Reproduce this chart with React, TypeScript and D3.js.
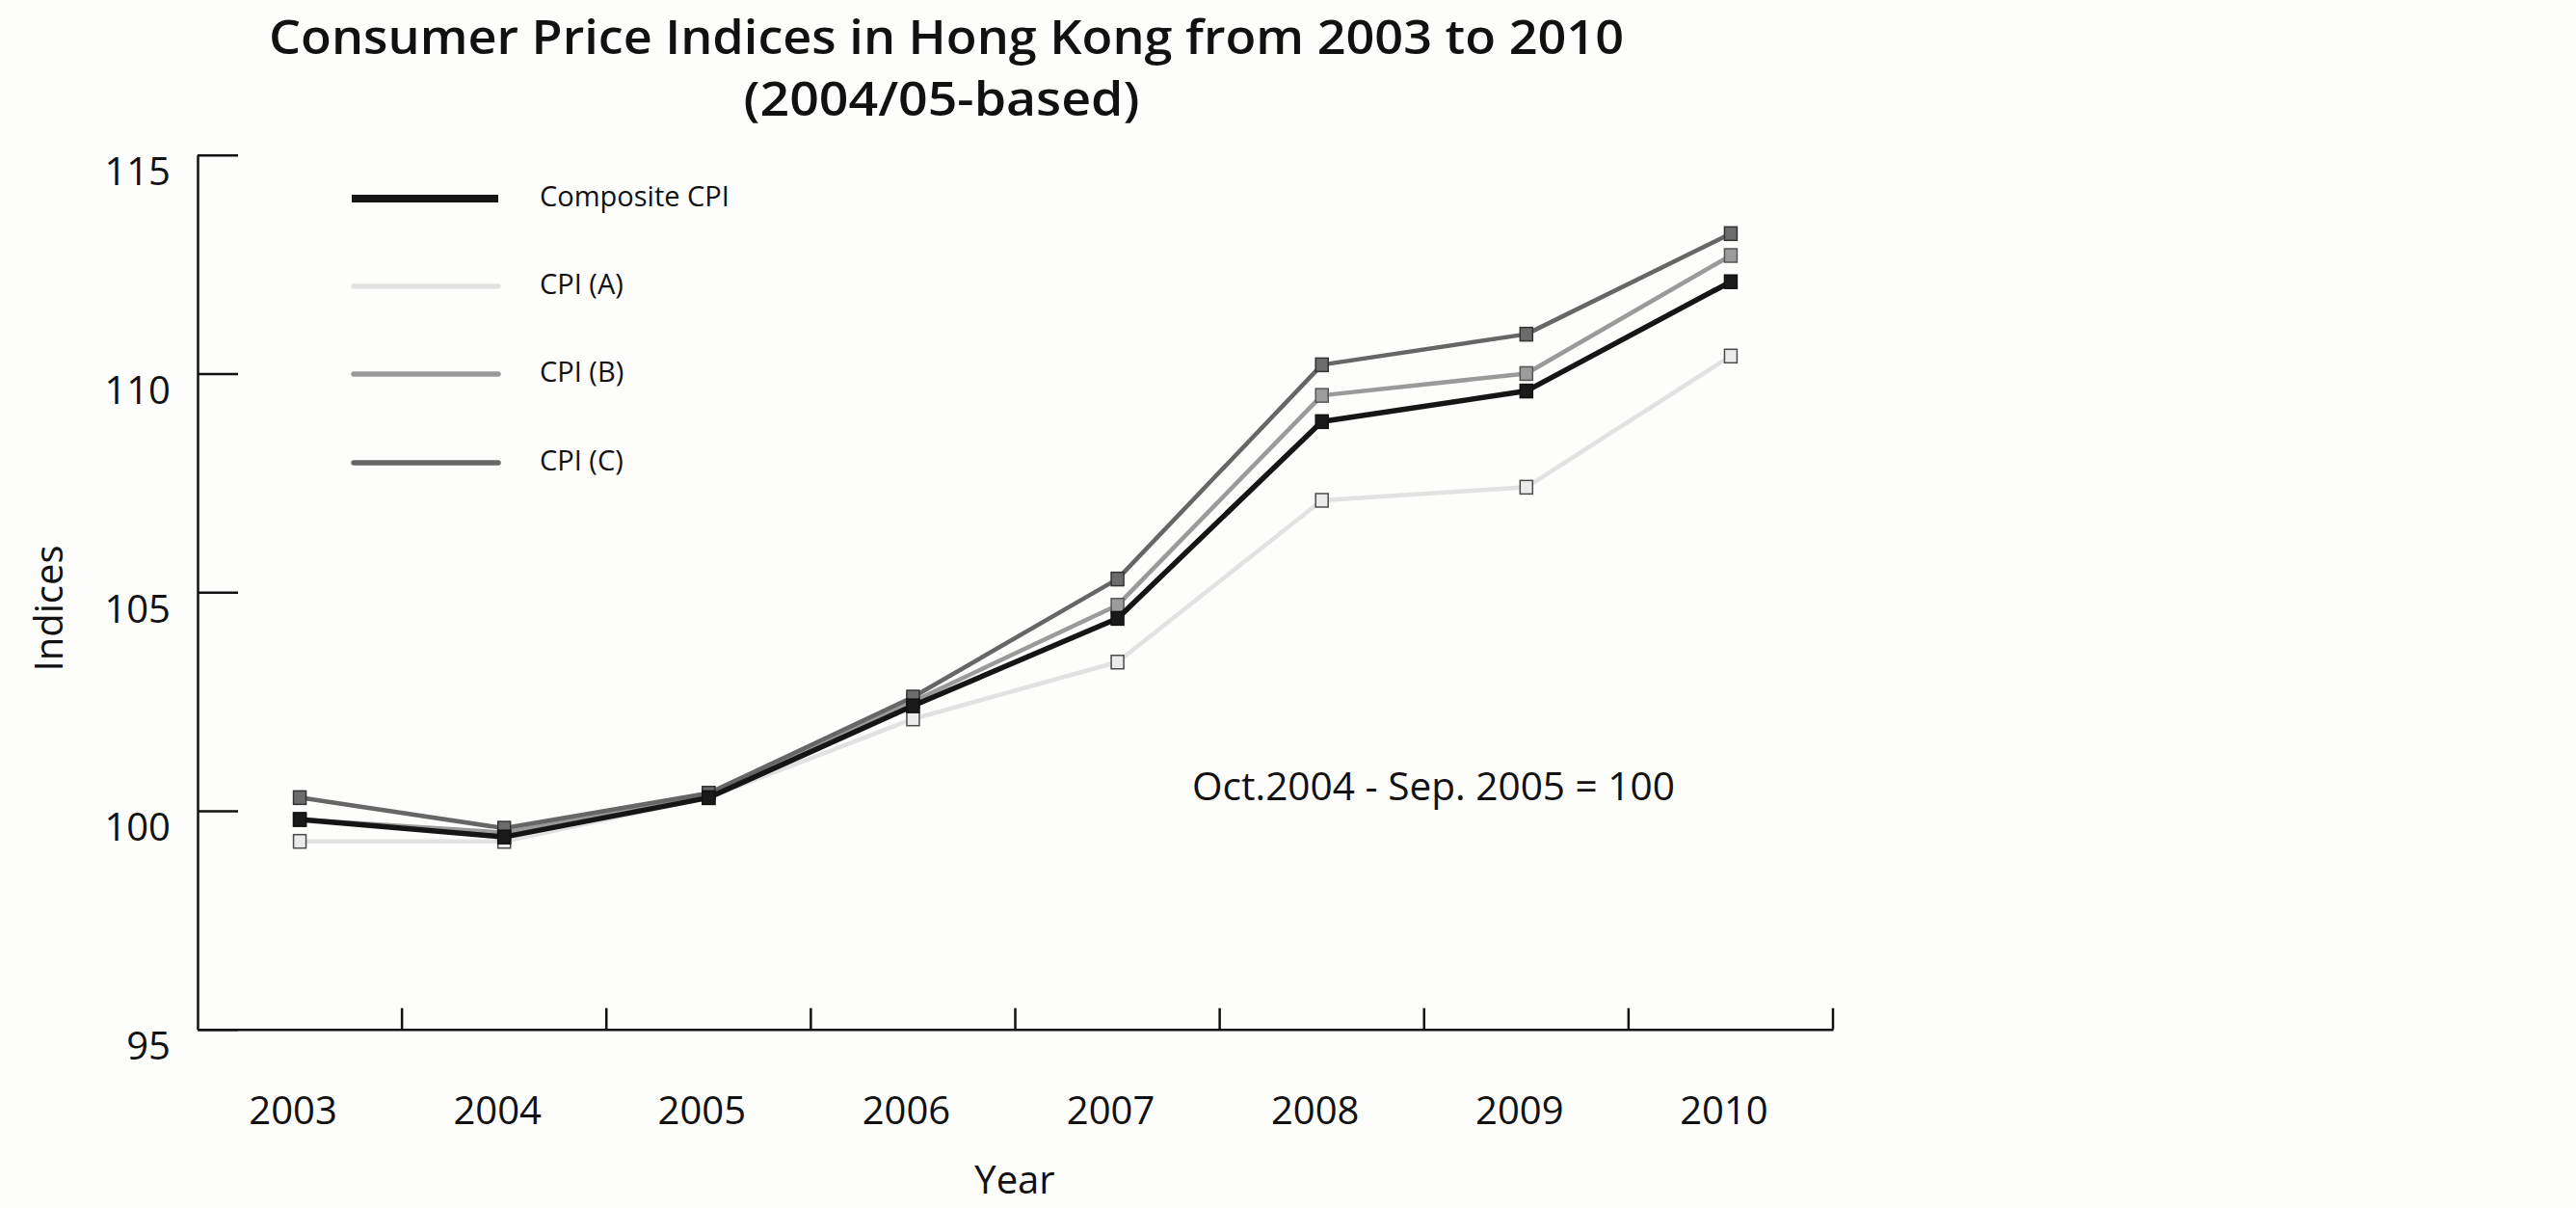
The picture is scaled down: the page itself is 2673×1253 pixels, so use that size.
import React, { useEffect, useRef } from 'react';
import * as d3 from 'd3';

const years = ['2003', '2004', '2005', '2006', '2007', '2008', '2009', '2010'];
const compositeCPI = [99.8, 99.4, 100.3, 102.4, 104.4, 108.9, 109.6, 112.1];
const cpiA = [99.3, 99.3, 100.3, 102.1, 103.4, 107.1, 107.4, 110.4];
const cpiB = [99.8, 99.5, 100.4, 102.5, 104.7, 109.5, 110.0, 112.7];
const cpiC = [100.3, 99.6, 100.4, 102.6, 105.3, 110.2, 110.9, 113.2];
const yTicks = [95, 100, 105, 110, 115];

type Series = {
  name: string;
  values: number[];
  line: string;
  fill: string;
  edge: string;
  width: number;
  legendWidth: number;
  cap: string;
};

// legend order
const series: Series[] = [
  { name: 'Composite CPI', values: compositeCPI, line: '#151515', fill: '#1a1a1a', edge: '#111', width: 5.5, legendWidth: 8, cap: 'butt' },
  { name: 'CPI (A)', values: cpiA, line: '#e2e2e2', fill: '#ebebeb', edge: '#4a4a4a', width: 4.5, legendWidth: 5.5, cap: 'round' },
  { name: 'CPI (B)', values: cpiB, line: '#9a9a9a', fill: '#9c9c9c', edge: '#555', width: 4.5, legendWidth: 5.5, cap: 'round' },
  { name: 'CPI (C)', values: cpiC, line: '#666666', fill: '#6c6c6c', edge: '#333', width: 4.5, legendWidth: 5.5, cap: 'round' },
];

const W = 2673;
const H = 1253;
const FONT = '"Open Sans", "Noto Sans", sans-serif';

export default function App() {
  const ref = useRef<SVGSVGElement>(null);

  useEffect(() => {
    const svg = d3.select(ref.current);
    svg.selectAll('*').remove();

    const left = 205;
    const right = 1902;
    const top = 160.7;
    const bottom = 1067.7;

    const x = d3.scaleBand<string>().domain(years).range([left, right]);
    const y = d3.scaleLinear().domain([95, 115]).range([bottom, top]);

    svg.append('rect').attr('width', W).attr('height', H).attr('fill', '#fdfdfc');

    // title
    const title = svg.append('g').attr('font-family', FONT).attr('font-weight', 600).attr('fill', '#111');
    title
      .append('text')
      .attr('x', 982)
      .attr('y', 56)
      .attr('text-anchor', 'middle')
      .attr('font-size', 48)
      .attr('textLength', 1406)
      .attr('lengthAdjust', 'spacingAndGlyphs')
      .text('Consumer Price Indices in Hong Kong from 2003 to 2010');
    title
      .append('text')
      .attr('x', 977)
      .attr('y', 120)
      .attr('text-anchor', 'middle')
      .attr('font-size', 48)
      .attr('textLength', 411)
      .attr('lengthAdjust', 'spacingAndGlyphs')
      .text('(2004/05-based)');

    // y axis
    const yAxis = svg
      .append('g')
      .attr('transform', `translate(${left},0)`)
      .call(d3.axisLeft(y).tickValues(yTicks).tickSize(-42).tickSizeOuter(0).tickPadding(28).tickFormat(d3.format('d')));
    yAxis.select('.domain').attr('stroke', '#111').attr('stroke-width', 2.5);
    yAxis.selectAll('.tick line').attr('stroke', '#111').attr('stroke-width', 2.5);
    yAxis
      .selectAll('.tick text')
      .attr('font-family', FONT)
      .attr('font-size', 40)
      .attr('fill', '#111')
      .attr('dy', 31);

    // x axis
    const xAxis = svg
      .append('g')
      .attr('transform', `translate(0,${bottom})`)
      .call(d3.axisBottom(x).tickSize(0).tickSizeOuter(0).tickPadding(98));
    xAxis.select('.domain').attr('stroke', '#111').attr('stroke-width', 2.5);
    xAxis
      .selectAll('.tick text')
      .attr('font-family', FONT)
      .attr('font-size', 40)
      .attr('fill', '#111')
      .attr('dx', -7)
      .attr('dy', 0);
    // boundary ticks pointing up
    xAxis
      .selectAll('.bound')
      .data(years)
      .enter()
      .append('line')
      .attr('class', 'bound')
      .attr('x1', (d) => x(d)! + x.bandwidth())
      .attr('x2', (d) => x(d)! + x.bandwidth())
      .attr('y1', 0)
      .attr('y2', -22)
      .attr('stroke', '#111')
      .attr('stroke-width', 2.5);

    // axis titles
    svg
      .append('text')
      .attr('x', 1053)
      .attr('y', 1238)
      .attr('text-anchor', 'middle')
      .attr('font-family', FONT)
      .attr('font-size', 40)
      .attr('fill', '#111')
      .text('Year');
    svg
      .append('text')
      .attr('transform', 'translate(65,631) rotate(-90)')
      .attr('text-anchor', 'middle')
      .attr('font-family', FONT)
      .attr('font-size', 40)
      .attr('fill', '#111')
      .text('Indices');

    // note
    svg
      .append('text')
      .attr('x', 1237)
      .attr('y', 830)
      .attr('font-family', FONT)
      .attr('font-size', 40)
      .attr('fill', '#111')
      .attr('textLength', 501)
      .attr('lengthAdjust', 'spacingAndGlyphs')
      .text('Oct.2004 - Sep. 2005 = 100');

    // lines, drawn A, B, C, then composite on top
    const drawOrder = [series[1], series[2], series[3], series[0]];
    const line = d3
      .line<number>()
      .x((_, i) => x(years[i])! + x.bandwidth() / 2)
      .y((d) => y(d));

    drawOrder.forEach((s) => {
      const g = svg.append('g');
      g.append('path')
        .attr('d', line(s.values))
        .attr('fill', 'none')
        .attr('stroke', s.line)
        .attr('stroke-width', s.width)
        .attr('stroke-linejoin', 'round');
      g.selectAll('rect')
        .data(s.values)
        .enter()
        .append('rect')
        .attr('x', (_, i) => x(years[i])! + x.bandwidth() / 2 - 6.5)
        .attr('y', (d) => y(d) - 7)
        .attr('width', 13)
        .attr('height', 14)
        .attr('fill', s.fill)
        .attr('stroke', s.edge)
        .attr('stroke-width', 1.5);
    });

    // legend
    const legendY = [206, 297, 388, 480];
    const legend = svg
      .append('g')
      .selectAll('g')
      .data(series)
      .enter()
      .append('g')
      .attr('transform', (_, i) => `translate(0,${legendY[i]})`);
    legend
      .append('line')
      .attr('x1', (d) => (d.cap === 'round' ? 367 : 365))
      .attr('x2', 517)
      .attr('stroke', (d) => d.line)
      .attr('stroke-width', (d) => d.legendWidth)
      .attr('stroke-linecap', (d) => d.cap);
    legend
      .append('text')
      .attr('x', 560)
      .attr('y', 8)
      .attr('font-family', FONT)
      .attr('font-size', 29)
      .attr('fill', '#111')
      .text((d) => d.name);
  }, []);

  return (
    <svg
      ref={ref}
      width={W}
      height={H}
      viewBox={`0 0 ${W} ${H}`}
      style={{ position: 'absolute', left: 0, top: 0, display: 'block' }}
    />
  );
}
